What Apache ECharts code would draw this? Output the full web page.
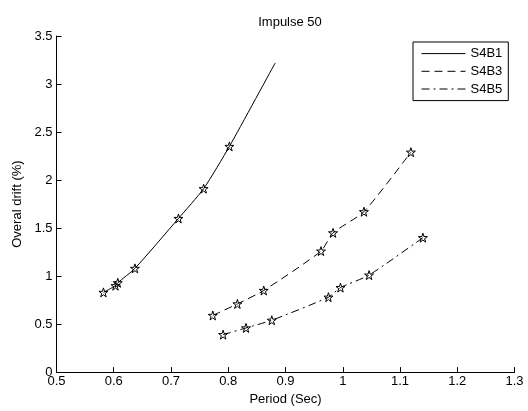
<!DOCTYPE html>
<html>
<head>
<meta charset="utf-8">
<script src="https://cdn.jsdelivr.net/npm/echarts@6/dist/echarts.min.js"></script>
<style>
  html, body { margin: 0; padding: 0; background: #fff; }
  #chart { width: 528px; height: 411px; }
</style>
</head>
<body>
<div id="chart"></div>
<script>
// values
const s4b1Period = [0.582, 0.603, 0.607, 0.637, 0.713, 0.757, 0.802, 0.882];
const s4b1Drift = [0.83, 0.90, 0.93, 1.08, 1.60, 1.91, 2.35, 3.22];
const s4b3Period = [0.773, 0.816, 0.862, 0.962, 0.983, 1.037, 1.119];
const s4b3Drift = [0.59, 0.71, 0.85, 1.26, 1.45, 1.67, 2.29];
const s4b5Period = [0.791, 0.831, 0.876, 0.975, 0.996, 1.046, 1.140];
const s4b5Drift = [0.39, 0.46, 0.54, 0.78, 0.88, 1.01, 1.40];
// S4B1 has no marker on its last point
const s4b1Unmarked = [7];

const starPath = 'path://M50 0 L61.23 34.55 L97.55 34.55 L68.16 55.9 L79.39 90.45 L50 69.1 L20.61 90.45 L31.84 55.9 L2.45 34.55 L38.77 34.55 Z';
const fontFamily = '"Liberation Sans", Arial, sans-serif';

function toPoints(xs, ys, unmarked) {
  let list = [];
  for (var i = 0; i < xs.length; i++) {
    let item = { value: [xs[i], ys[i]] };
    if (unmarked && unmarked.indexOf(i) >= 0) {
      item.symbol = 'none';
    }
    list.push(item);
  }
  return list;
}

function buildSeries(name, data, dash) {
  return {
    name: name,
    type: 'line',
    data: data,
    smooth: 0.2,
    symbol: starPath,
    symbolSize: 9,
    itemStyle: { color: 'transparent', borderColor: '#000', borderWidth: 1 },
    lineStyle: { color: '#000', width: 1, type: dash },
    emphasis: { disabled: true },
    z: 2
  };
}

const axisText = { color: '#000', fontSize: 13, fontFamily: fontFamily };

const option = {
  backgroundColor: '#fff',
  animation: false,
  title: {
    text: 'Impulse 50',
    left: 285,
    textAlign: 'center',
    top: 11,
    textStyle: { color: '#000', fontSize: 13, fontWeight: 'normal', fontFamily: fontFamily }
  },
  legend: {
    orient: 'vertical',
    left: 413,
    top: 42,
    padding: [5, 6, 5, 8],
    itemWidth: 44,
    itemHeight: 14,
    itemGap: 4.5,
    borderColor: '#000',
    borderWidth: 1,
    backgroundColor: '#fff',
    itemStyle: { opacity: 0 },
    lineStyle: { width: 1 },
    textStyle: { color: '#000', fontSize: 13, fontFamily: fontFamily, padding: [0, 0, 0, 0] },
    data: ['S4B1', 'S4B3', 'S4B5']
  },
  grid: { left: 56.5, right: 13.5, top: 36, bottom: 34.5 },
  xAxis: {
    type: 'value',
    min: 0.5,
    max: 1.3,
    interval: 0.1,
    name: 'Period (Sec)',
    nameLocation: 'middle',
    nameGap: 19,
    nameTextStyle: { color: '#000', fontSize: 13, fontFamily: fontFamily },
    axisLine: { show: true, lineStyle: { color: '#000', width: 1 } },
    axisTick: { show: true, inside: true, length: 5, lineStyle: { color: '#000' } },
    axisLabel: Object.assign({ margin: 3, formatter: v => String(+v.toFixed(1)) }, axisText),
    splitLine: { show: false }
  },
  yAxis: {
    type: 'value',
    min: 0,
    max: 3.5,
    interval: 0.5,
    name: 'Overal drift (%)',
    nameLocation: 'middle',
    nameGap: 32,
    nameTextStyle: { color: '#000', fontSize: 13, fontFamily: fontFamily },
    axisLine: { show: true, lineStyle: { color: '#000', width: 1 } },
    axisTick: { show: true, inside: true, length: 5, lineStyle: { color: '#000' } },
    axisLabel: Object.assign({ margin: 4, formatter: v => String(+v.toFixed(1)) }, axisText),
    splitLine: { show: false }
  },
  series: [
    buildSeries('S4B1', toPoints(s4b1Period, s4b1Drift, s4b1Unmarked), 'solid'),
    buildSeries('S4B3', toPoints(s4b3Period, s4b3Drift), [8, 5]),
    buildSeries('S4B5', toPoints(s4b5Period, s4b5Drift), [8, 4, 2, 4])
  ]
};

var myChart = echarts.init(document.querySelector('#chart'));
myChart.setOption(option);
</script>
</body>
</html>
